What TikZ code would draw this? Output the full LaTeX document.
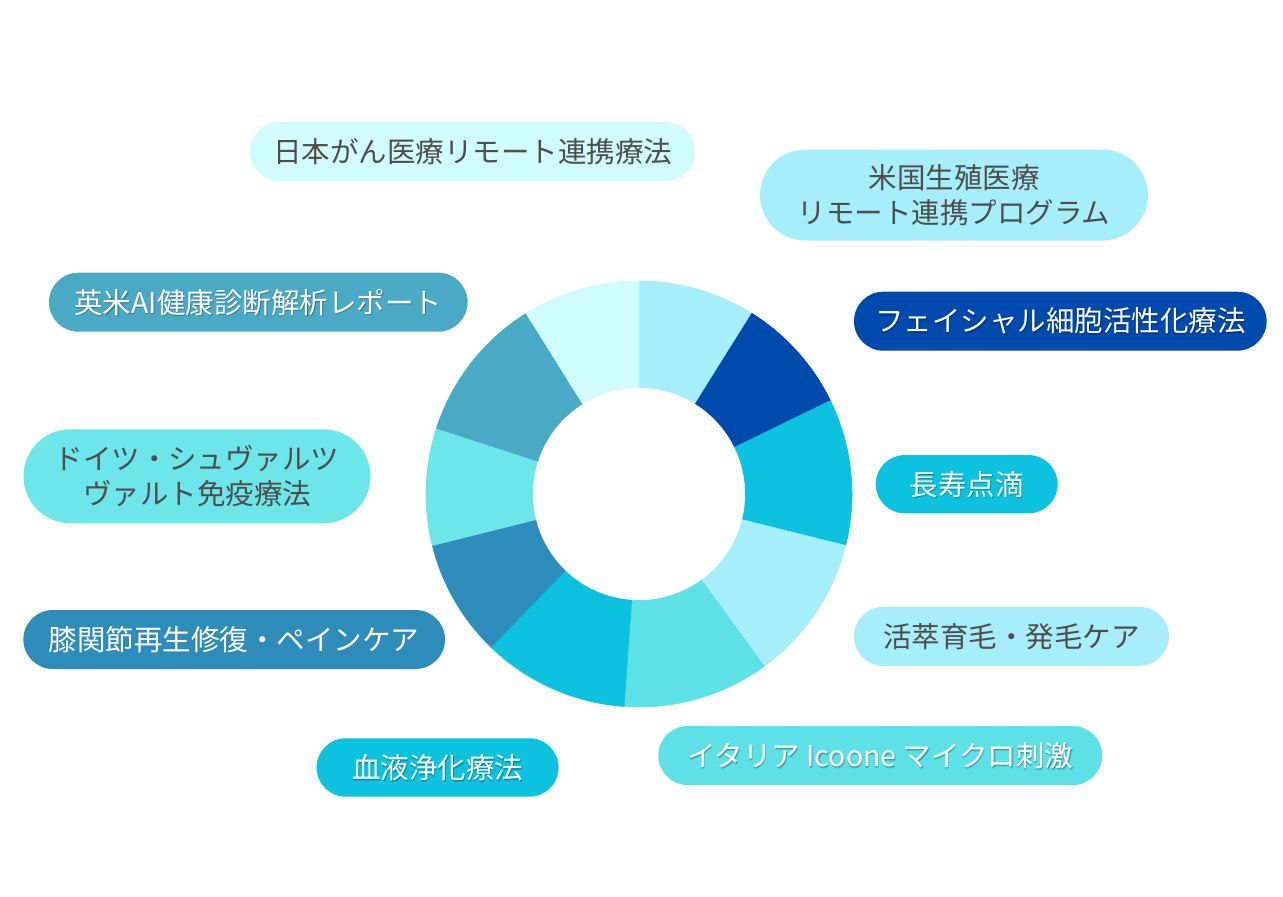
\documentclass[tikz,border=0pt]{standalone}
\usepackage{fontspec}
\newfontfamily\jp{Noto Sans CJK JP}
\usetikzlibrary{shapes.misc,calc}
\definecolor{cVL}{HTML}{D0FCFD}
\definecolor{cLC}{HTML}{A6EEFC}
\definecolor{cDB}{HTML}{004AAD}
\definecolor{cCY}{HTML}{0DC2DF}
\definecolor{cTQ}{HTML}{5DE0E6}
\definecolor{cTQB}{HTML}{6CE6E8}
\definecolor{cBL}{HTML}{2E8CBB}
\definecolor{cTL}{HTML}{4AAAC5}
\definecolor{cTxt}{HTML}{4D4D4D}
\tikzset{
  pill/.style={rounded rectangle, inner sep=0pt, draw=none},
  pilltext/.style={inner sep=0pt, align=center, font=\jp\fontsize{28.5}{35}\selectfont},
  darkpill/.style={pill, pilltext, text=cTxt},
  seg/.style={fill=#1, draw=#1, line width=0.6pt, line join=round}
}
\newcommand\WPill[7]{%
  \node[pill, fill=#6, minimum width=#4pt, minimum height=#5pt] (#1) at (#2,#3) {};
  \node[pilltext, text=black, opacity=0.18] (#1s) at ([shift={(0.5,1.8)}]#1.center) {#7};
  \node[pilltext, text=black, opacity=0.12] (#1r) at ([shift={(1.2,1)}]#1.center) {#7};
  \node[pilltext, text=white] (#1t) at (#1.center) {#7};%
}
\begin{document}
\begin{tikzpicture}[x=1pt,y=-1pt]
\useasboundingbox (0,0) rectangle (1283,897);
\fill[white] (0,0) rectangle (1283,897);
% donut
\coordinate (c) at (639,494);
\foreach \a/\b/\col in {90/58/cLC, 58/26/cDB, 26/-14/cCY, -14/-54/cLC, -54/-94/cTQ,
  -94/-134/cCY, -134/-166/cBL, -166/-198/cTQB, -198/-238/cTL, -238/-270/cVL}{
  \path[seg=\col] ($(c)+(\a:213pt)$) arc[start angle=\a, end angle=\b, radius=213pt]
    -- ($(c)+(\b:106.5pt)$) arc[start angle=\b, end angle=\a, radius=106.5pt] -- cycle;
}
% labels with dark text
\node[darkpill, fill=cVL, minimum width=445pt, minimum height=59pt] (nihon) at (472.5,151.5) {日本がん医療リモート連携療法};
\node[darkpill, fill=cLC, minimum width=388pt, minimum height=91pt] (beikoku) at (954,195) {米国生殖医療\\リモート連携プログラム};
\node[darkpill, fill=cLC, minimum width=315pt, minimum height=59pt] (ikumou) at (1011.5,636.3) {活萃育毛・発毛ケア};
\node[darkpill, fill=cTQB, minimum width=347pt, minimum height=94pt] (doitsu) at (197,476.3) {ドイツ・シュヴァルツ\\ヴァルト免疫療法};
% labels with white text
\WPill{facial}{1060.3}{321.2}{412.7}{59}{cDB}{フェイシャル細胞活性化療法}
\WPill{choju}{966.7}{484.2}{182}{58.3}{cCY}{長寿点滴}
\WPill{italia}{880.3}{755.5}{444}{59}{cTQ}{イタリア Icoone マイクロ刺激}
\WPill{ketsueki}{437.6}{767.5}{242}{58.4}{cCY}{血液浄化療法}
\node[pill, fill=cBL, minimum width=421.7pt, minimum height=59pt] (hiza) at (234.2,639.5) {};
\node[pilltext, text=white] (hizat) at (hiza.center) {膝関節再生修復・ペインケア};
\WPill{eibei}{258.3}{302.2}{418.7}{59}{cTL}{英米AI健康診断解析レポート}
\end{tikzpicture}
\end{document}
